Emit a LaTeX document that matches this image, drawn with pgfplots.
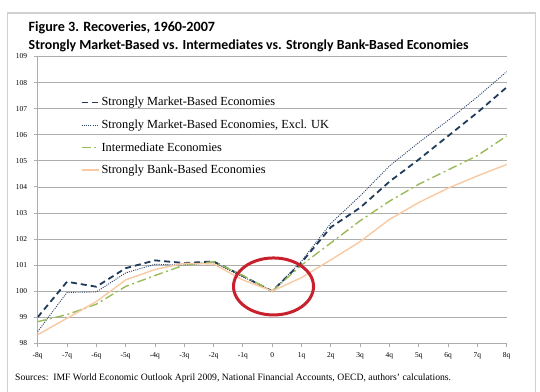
\documentclass[border=0pt]{standalone}
\usepackage{fontspec}
\setmainfont{Liberation Serif}
\newfontfamily\titlefont{Carlito}
\usepackage{pgfplots}
\pgfplotsset{compat=1.18}
\definecolor{mkt}{HTML}{1F3A5A}
\definecolor{mktx}{HTML}{2A4468}
\definecolor{inter}{HTML}{9BBB59}
\definecolor{bank}{HTML}{F9C9A2}
\definecolor{gridc}{HTML}{ADADAD}
\definecolor{framec}{HTML}{D0D0D0}
\definecolor{circ}{HTML}{C8202C}
\begin{document}
\begin{tikzpicture}
\useasboundingbox (0bp,0bp) rectangle (540bp,392bp);
\fill[white] (0bp,0bp) rectangle (540bp,392bp);
\draw[framec, line width=1.5bp] (7.5bp,0bp) -- (7.5bp,379bp) -- (535.5bp,379bp) -- (535.5bp,0bp);
\node[anchor=base west, font=\titlefont\bfseries\fontsize{14.2}{16}\selectfont, inner sep=0pt] at (28.5bp,360bp) {Figure 3. Recoveries, 1960-2007};
\node[anchor=base west, font=\titlefont\bfseries\fontsize{13.9}{15}\selectfont, inner sep=0pt] at (28.5bp,342bp) {Strongly Market-Based vs. Intermediates vs. Strongly Bank-Based Economies};
\node[anchor=base west, font=\fontsize{9.7}{11}\selectfont, inner sep=0pt] at (15bp,12bp) {Sources:\ \ IMF World Economic Outlook April 2009, National Financial Accounts, OECD, authors' calculations.};
\begin{axis}[
  at={(37.7bp,48.7bp)}, anchor=south west, scale only axis,
  width=469bp, height=286.8bp,
  xmin=-8, xmax=8, ymin=98, ymax=109,
  axis x line*=bottom, axis y line*=left,
  axis line style={gridc, line width=0.8bp},
  tick style={gridc, line width=0.8bp},
  tick align=outside, major tick length=4bp,
  xtick={-8,...,8},
  xticklabels={-8q,-7q,-6q,-5q,-4q,-3q,-2q,-1q,0,1q,2q,3q,4q,5q,6q,7q,8q},
  ytick={98,...,109},
  /pgf/number format/assume math mode=true,
  ticklabel style={font=\fontsize{7.5}{8}\selectfont},
  xticklabel style={yshift=-2bp},
  yticklabel style={xshift=-3bp},
  ymajorgrids, grid style={gridc, line width=0.7bp},
  legend cell align=left,
  legend style={at={(rel axis cs:0.085,0.872)}, anchor=north west, draw=none, fill=none,
    font=\fontsize{12.4}{14}\selectfont, row sep=8.5bp},
]
\addplot[mkt, line width=1.8bp, dash pattern=on 6bp off 4bp] coordinates {
(-8,99.0) (-7,100.36) (-6,100.17) (-5,100.88) (-4,101.18) (-3,101.08) (-2,101.14) (-1,100.58) (0,100)
(1,101.1) (2,102.45) (3,103.2) (4,104.2) (5,105.05) (6,105.95) (7,106.85) (8,107.82)};
\addlegendentry{Strongly Market-Based Economies}
\addplot[mktx, line width=0.9bp, dash pattern=on 1bp off 1.2bp] coordinates {
(-8,98.45) (-7,99.95) (-6,99.97) (-5,100.7) (-4,101.03) (-3,101.0) (-2,101.1) (-1,100.55) (0,100)
(1,101.15) (2,102.6) (3,103.65) (4,104.8) (5,105.7) (6,106.55) (7,107.45) (8,108.42)};
\addlegendentry{Strongly Market-Based Economies, Excl. UK}
\addplot[inter, line width=1.4bp, dash pattern=on 9bp off 3.5bp on 2bp off 3.5bp] coordinates {
(-8,98.83) (-7,99.1) (-6,99.5) (-5,100.18) (-4,100.6) (-3,101.0) (-2,101.13) (-1,100.6) (0,100)
(1,101.0) (2,101.85) (3,102.7) (4,103.45) (5,104.1) (6,104.65) (7,105.2) (8,105.95)};
\addlegendentry{Intermediate Economies}
\addplot[bank, line width=1.4bp] coordinates {
(-8,98.33) (-7,98.96) (-6,99.6) (-5,100.43) (-4,100.83) (-3,101.07) (-2,101.04) (-1,100.43) (0,100)
(1,100.52) (2,101.2) (3,101.9) (4,102.75) (5,103.4) (6,103.95) (7,104.42) (8,104.86)};
\addlegendentry{Strongly Bank-Based Economies}
\draw[circ, line width=3bp] (axis cs:0.045,100.18) ellipse [x radius=40bp, y radius=28.5bp];
\end{axis}
\end{tikzpicture}
\end{document}
